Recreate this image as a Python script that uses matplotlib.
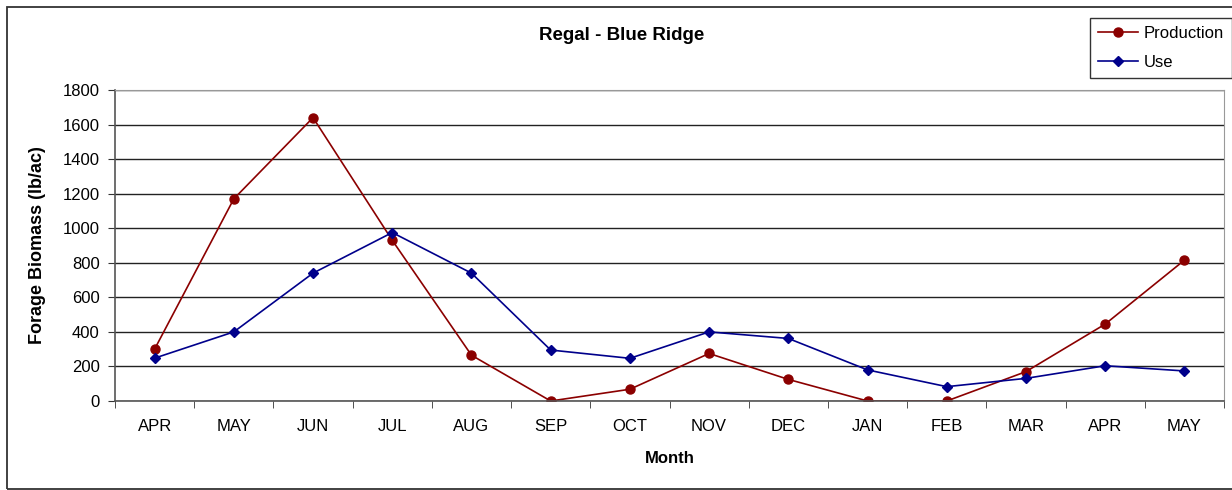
import matplotlib
matplotlib.use("Agg")
import matplotlib.pyplot as plt
from matplotlib.patches import Rectangle
import numpy as np

plt.rcParams['font.family'] = ['Liberation Sans', 'DejaVu Sans']

title = "Regal - Blue Ridge"
months = ["APR", "MAY", "JUN", "JUL", "AUG", "SEP", "OCT",
          "NOV", "DEC", "JAN", "FEB", "MAR", "APR", "MAY"]
production = [300, 1170, 1640, 930, 265, 0, 68, 275, 125, 0, 0, 170, 445, 815]
use = [248, 400, 740, 975, 740, 295, 247, 400, 362, 180, 83, 131, 204, 174]
y_ticks = [0, 200, 400, 600, 800, 1000, 1200, 1400, 1600, 1800]

W, H = 1232, 490
fig = plt.figure(figsize=(W / 100, H / 100), dpi=100)
# outer chart border
fig.patches.append(Rectangle((7 / W, 1 / H), 1.2, 482 / H, transform=fig.transFigure,
                             fill=False, edgecolor="#333333", linewidth=1.3))

ax = fig.add_axes([115 / W, 1 - 401 / H, (1224 - 115) / W, (401 - 90) / H])
x = np.arange(len(months))

ax.plot(x, production, color="#8b0000", linewidth=1.2, marker="o", markersize=6.5,
        label="Production")
ax.plot(x, use, color="#00008b", linewidth=1.2, marker="D", markersize=5,
        label="Use")

ax.set_xlim(-0.5, len(months) - 0.5)
ax.set_ylim(0, 1800)
ax.set_yticks(y_ticks)
ax.set_yticklabels([str(v) for v in y_ticks], fontsize=12)
ax.set_xticks(x)
ax.set_xticklabels(months, fontsize=12)
ax.set_xticks(np.arange(-0.5, len(months)), minor=True)
ax.tick_params(axis="x", which="major", length=0, pad=13)
ax.tick_params(axis="x", which="minor", length=5, color="#333333")
ax.tick_params(axis="y", length=5, color="#333333", pad=6)
ax.grid(axis="y", color="#222222", linewidth=1.0)
ax.set_axisbelow(True)

for side in ["top", "right"]:
    ax.spines[side].set_color("#999999")
for side in ["left", "bottom"]:
    ax.spines[side].set_color("#555555")
    ax.spines[side].set_linewidth(1.2)

ax.set_xlabel("Month", fontsize=12, fontweight="bold", labelpad=12)
ax.set_ylabel("Forage Biomass (lb/ac)", fontsize=13, fontweight="bold", labelpad=12)
fig.text(622 / W, 1 - 35 / H, title, ha="center", va="center", fontsize=13.5,
         fontweight="bold")

leg = fig.legend(loc="upper left", bbox_to_anchor=(1090 / W, 1 - 18 / H),
                 fontsize=12, frameon=True, fancybox=False, edgecolor="black",
                 handlelength=2.4, handletextpad=0.3, borderpad=0.5,
                 labelspacing=0.8, borderaxespad=0)
leg.get_frame().set_linewidth(1.0)

fig.savefig("out.png", dpi=100)
